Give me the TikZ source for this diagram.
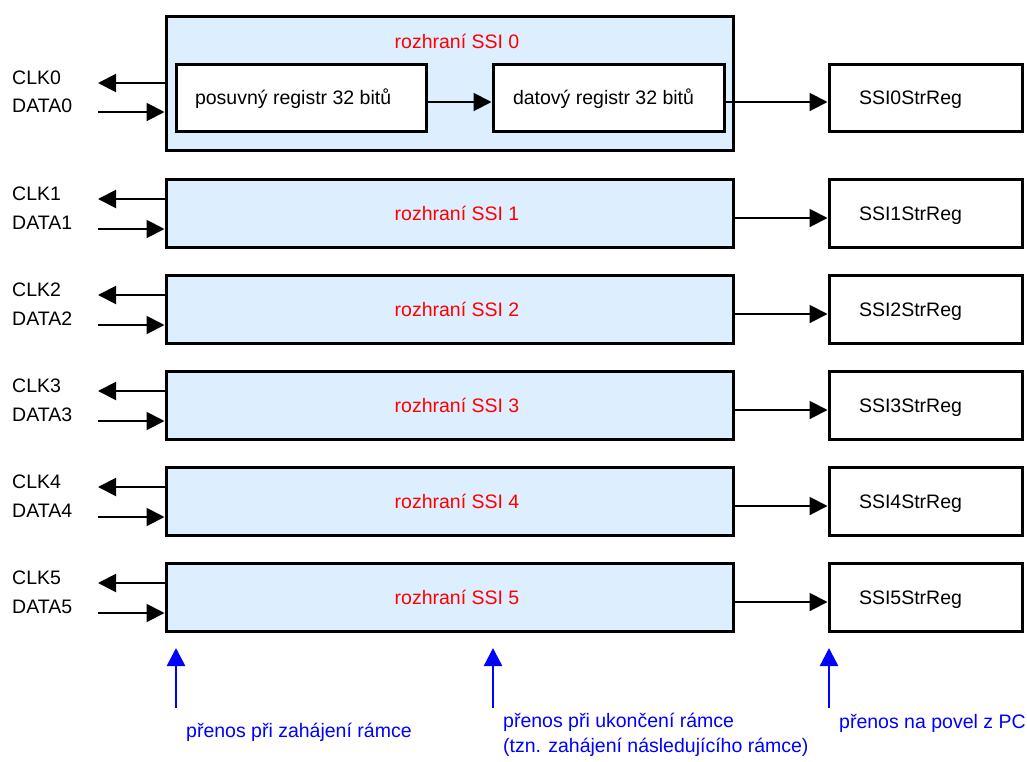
\documentclass[tikz,border=0pt]{standalone}
\usepackage{fontspec}
\setmainfont{Liberation Sans}
\usepackage{xcolor}
\usetikzlibrary{arrows.meta,positioning}
\definecolor{ssifill}{RGB}{221,238,255}

\begin{document}
\begin{tikzpicture}[x=1pt, y=-1pt,
    font=\fontsize{19.5}{25}\selectfont,
    every node/.style={inner sep=0pt},
    ssibox/.style={draw, line width=3pt, fill=ssifill, minimum width=567pt},
    regbox/.style={draw, line width=3pt, fill=white, text height=14pt, text depth=0pt},
    sig/.style={line width=2pt, -{Triangle[length=18pt, width=18pt]}},
    xfer/.style={blue, line width=2.5pt, -{Triangle[length=18pt, width=18pt]}}]
    \useasboundingbox (0,0) rectangle (1027,761);

    % interface 0 with its two registers
    \node[ssibox, minimum height=134pt] (ssi0) at (449.5,83) {};
    \node[text=red] (name0) at (457,41) {rozhraní SSI 0};
    \node[regbox, inner xsep=19pt, minimum height=67pt] (shreg) at (301,97.5) {\makebox[212pt][l]{posuvný registr 32 bitů}};
    \node[regbox, inner xsep=20pt, minimum height=67pt, right=64pt of shreg] (datreg) {\makebox[191pt][l]{datový registr 32 bitů}};
    \node[regbox, inner xsep=30pt, minimum height=67pt, right=102pt of datreg] (str0) {\makebox[133pt][l]{SSI0StrReg}};
    \draw[sig] ([yshift=-4.5pt]shreg.east) -- ([yshift=-4.5pt]datreg.west);
    \draw[sig] ([yshift=-4.5pt]datreg.east) -- ([yshift=-4.5pt]str0.west);

    \coordinate (clk0) at (98,83);
    \coordinate (data0) at (98,112);
    \draw[sig] (ssi0.west |- clk0) -- (clk0);
    \draw[sig] (data0) -- (ssi0.west |- data0);
    \node[anchor=west] (clklbl0) at (12,78) {CLK0};
    \node[anchor=west] (datalbl0) at (12,106) {DATA0};

    % interfaces 1..5
    \foreach \i in {1,...,5} {
        \pgfmathsetmacro\cy{213+96*(\i-1)}
        \node[ssibox, minimum height=68pt] (ssi\i) at (449.5,\cy) {};
        \node[text=red] (name\i) at (457,\cy) {rozhraní SSI \i};
        \node[regbox, inner xsep=30pt, minimum height=68pt] (str\i) at (925.5,\cy) {\makebox[133pt][l]{SSI\i StrReg}};
        \draw[sig] ([yshift=-5pt]ssi\i.east) -- ([yshift=-5pt]str\i.west);

        \coordinate (clk\i) at (98,\cy-14);
        \coordinate (data\i) at (98,\cy+16);
        \draw[sig] (ssi\i.west |- clk\i) -- (clk\i);
        \draw[sig] (data\i) -- (ssi\i.west |- data\i);
        \node[anchor=west] (clklbl\i) at (12,\cy-19) {CLK\i};
        \node[anchor=west] (datalbl\i) at (12,\cy+10) {DATA\i};
    }

    % transfer moments
    \coordinate (begtop) at (176,648);
    \coordinate (begbot) at (176,708);
    \coordinate (endtop) at (493,648);
    \coordinate (endbot) at (493,708);
    \coordinate (pctop) at (829,648);
    \coordinate (pcbot) at (829,708);
    \draw[xfer] (begbot) -- (begtop);
    \draw[xfer] (endbot) -- (endtop);
    \draw[xfer] (pcbot) -- (pctop);

    \node[anchor=west, text=blue] (begtxt) at (186,732) {přenos při zahájení rámce};
    \node[anchor=west, text=blue, align=left] (endtxt) at (503,735) {přenos při ukončení rámce\\(tzn. zahájení následujícího rámce)};
    \node[anchor=west, text=blue] (pctxt) at (839,723) {přenos na povel z PC};
\end{tikzpicture}
\end{document}
